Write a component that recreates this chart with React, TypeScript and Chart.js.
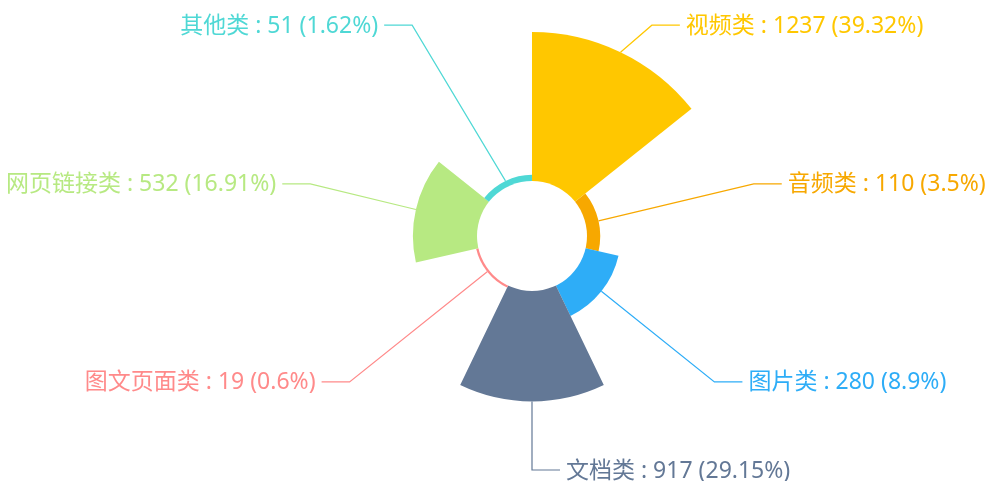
import React, { useEffect, useRef } from "react";
import { Chart, registerables } from "chart.js";

Chart.register(...registerables);

const categories = ["视频类", "音频类", "图片类", "文档类", "图文页面类", "网页链接类", "其他类"];
const values = [1237, 110, 280, 917, 19, 532, 51];
const colors = ["#FFC700", "#F7A800", "#2EADF7", "#637896", "#FF8A8A", "#B7E982", "#4FD8D5"];

const INNER_RATIO = 55 / 204;
const LINE_LEN = 30;
const LINE_LEN2 = 28;
const TEXT_GAP = 6;
const LABEL_RING_EXTRA = 57;
const FONT = '23px "Noto Sans", "Noto Sans CJK SC", sans-serif';

const total = values.reduce((a, b) => a + b, 0);
const pct = (v: number) => String(Number(((v / total) * 100).toFixed(2)));

const roseLabels = {
  id: "roseLabels",
  afterDatasetsDraw(chart: any) {
    const scale = chart.scales.r;
    const cx = scale.xCenter;
    const cy = scale.yCenter;
    const R = scale.getDistanceFromCenterForValue(scale.max);
    const r0 = scale.getDistanceFromCenterForValue(0);
    const ctx = chart.ctx;
    ctx.save();
    ctx.beginPath();
    ctx.arc(cx, cy, r0, 0, Math.PI * 2);
    ctx.fillStyle = "#ffffff";
    ctx.fill();

    const meta = chart.getDatasetMeta(0);
    const items = meta.data.map((arc: any, i: number) => {
      const p = arc.getProps(["startAngle", "endAngle", "outerRadius"], true);
      const mid = (p.startAngle + p.endAngle) / 2;
      const dx = Math.cos(mid);
      const dy = Math.sin(mid);
      const dir = dx < -1e-9 ? -1 : 1;
      const x1 = cx + p.outerRadius * dx;
      const y1 = cy + p.outerRadius * dy;
      const x2 = cx + (R + LINE_LEN) * dx;
      const y2 = cy + (R + LINE_LEN) * dy;
      return { i, x1, y1, dir, textX: x2 + dir * (LINE_LEN2 + TEXT_GAP), textY: y2 };
    });

    const ring = R + LABEL_RING_EXTRA;
    const changeX = (list: any[], isDown: boolean) => {
      let last = isDown ? Number.MAX_VALUE : 0;
      list.forEach((it) => {
        const deltaY = Math.abs(it.textY - cy);
        let deltaX = deltaY < R + LINE_LEN - 1e-6 ? Math.sqrt(ring * ring - deltaY * deltaY) : Math.abs(it.textX - cx);
        if (isDown && deltaX >= last) deltaX = last - 10;
        if (!isDown && deltaX <= last) deltaX = last + 10;
        it.textX = cx + deltaX * it.dir;
        last = deltaX;
      });
    };
    [1, -1].forEach((d) => {
      const side = items.filter((it: any) => it.dir === d).sort((a: any, b: any) => a.textY - b.textY);
      changeX(side.filter((it: any) => it.textY < cy), false);
      changeX(side.filter((it: any) => it.textY >= cy), true);
    });

    ctx.font = FONT;
    ctx.textBaseline = "middle";
    items.forEach((it: any) => {
      const color = colors[it.i];
      const endX = it.textX - it.dir * TEXT_GAP;
      const elbowX = endX - it.dir * LINE_LEN2;
      ctx.beginPath();
      ctx.moveTo(it.x1, it.y1);
      ctx.lineTo(elbowX, it.textY);
      ctx.lineTo(endX, it.textY);
      ctx.strokeStyle = color;
      ctx.lineWidth = 1.2;
      ctx.stroke();
      ctx.fillStyle = color;
      ctx.textAlign = it.dir < 0 ? "right" : "left";
      const v = values[it.i];
      ctx.fillText(`${categories[it.i]} : ${v} (${pct(v)}%)`, it.textX, it.textY + 1);
    });
    ctx.restore();
  },
};

export default function App() {
  const ref = useRef<HTMLCanvasElement>(null);
  useEffect(() => {
    if (!ref.current) return;
    const maxV = Math.max(...values);
    const minV = -(maxV * INNER_RATIO) / (1 - INNER_RATIO);
    const chart = new Chart(ref.current, {
      type: "polarArea",
      data: {
        labels: categories,
        datasets: [
          {
            data: values,
            backgroundColor: colors,
            borderWidth: 0,
          },
        ],
      },
      options: {
        animation: false,
        responsive: true,
        maintainAspectRatio: false,
        layout: { padding: { left: 76, right: 0, top: 32, bottom: 41 } },
        plugins: { legend: { display: false }, tooltip: { enabled: false } },
        scales: {
          r: {
            min: minV,
            max: maxV,
            ticks: { display: false },
            grid: { display: false },
            angleLines: { display: false },
            pointLabels: { display: false },
          },
        },
      },
      plugins: [roseLabels],
    });
    return () => chart.destroy();
  }, []);
  return (
    <div style={{ position: "fixed", left: 0, top: 0, width: 988, height: 481, background: "#fff" }}>
      <canvas ref={ref} />
    </div>
  );
}
